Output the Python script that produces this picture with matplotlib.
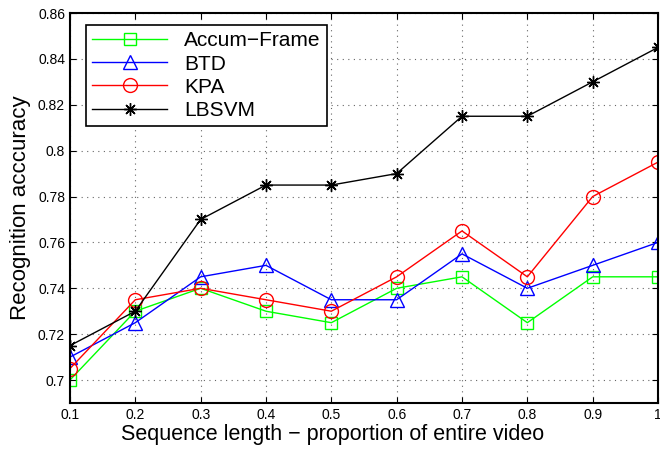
import matplotlib
matplotlib.use("Agg")
import matplotlib.pyplot as plt

x = [0.1, 0.2, 0.3, 0.4, 0.5, 0.6, 0.7, 0.8, 0.9, 1.0]
accum_frame = [0.700, 0.730, 0.740, 0.730, 0.725, 0.740, 0.745, 0.725, 0.745, 0.745]
btd = [0.710, 0.725, 0.745, 0.750, 0.735, 0.735, 0.755, 0.740, 0.750, 0.760]
kpa = [0.705, 0.735, 0.740, 0.735, 0.730, 0.745, 0.765, 0.745, 0.780, 0.795]
lbsvm = [0.715, 0.730, 0.770, 0.785, 0.785, 0.790, 0.815, 0.815, 0.830, 0.845]
xtick_labels = ["0.1", "0.2", "0.3", "0.4", "0.5", "0.6", "0.7", "0.8", "0.9", "1"]
yticks = [0.70, 0.72, 0.74, 0.76, 0.78, 0.80, 0.82, 0.84, 0.86]
ytick_labels = ["0.7", "0.72", "0.74", "0.76", "0.78", "0.8", "0.82", "0.84", "0.86"]

plt.rcParams["font.family"] = ["Liberation Sans", "DejaVu Sans"]

fig = plt.figure(figsize=(6.6, 4.49), dpi=100)
ax = fig.add_axes([0.106, 0.1025, 0.891, 0.8685])

ax.plot(x, accum_frame, color="#00ff00", marker="s", ms=8, mfc="none", mew=1, lw=1, label="Accum\u2212Frame")
ax.plot(x, btd, color="blue", marker="^", ms=10, mfc="none", mew=1, lw=1, label="BTD")
ax.plot(x, kpa, color="red", marker="o", ms=10, mfc="none", mew=1, lw=1, label="KPA")
# matlab style asterisk
ax.plot(x, lbsvm, color="black", marker=(8, 2, 0), ms=9, mew=1, lw=1, label="LBSVM")

ax.set_xlim(0.1, 1.0)
ax.set_ylim(0.69, 0.86)
ax.set_xticks(x)
ax.set_xticklabels(xtick_labels)
ax.set_yticks(yticks)
ax.set_yticklabels(ytick_labels)
ax.tick_params(direction="in", top=True, right=True, labelsize=10, length=4)
ax.grid(True, linestyle=(0, (1, 4)), color="#666666", lw=0.8)
for s in ax.spines.values():
    s.set_linewidth(1.5)

ax.set_xlabel("Sequence length \u2212 proportion of entire video", fontsize=15.5)
ax.xaxis.set_label_coords(0.446, -0.055)
ax.set_ylabel("Recognition acccuracy", fontsize=16, labelpad=5)

leg = ax.legend(loc="upper left", bbox_to_anchor=(0.027, 0.969), borderaxespad=0, fontsize=15,
                fancybox=False, edgecolor="black", framealpha=1, handlelength=3.6,
                labelspacing=0.2, borderpad=0.3, handletextpad=0.8)
leg.get_frame().set_linewidth(1.2)

fig.savefig("out.png", dpi=100)
